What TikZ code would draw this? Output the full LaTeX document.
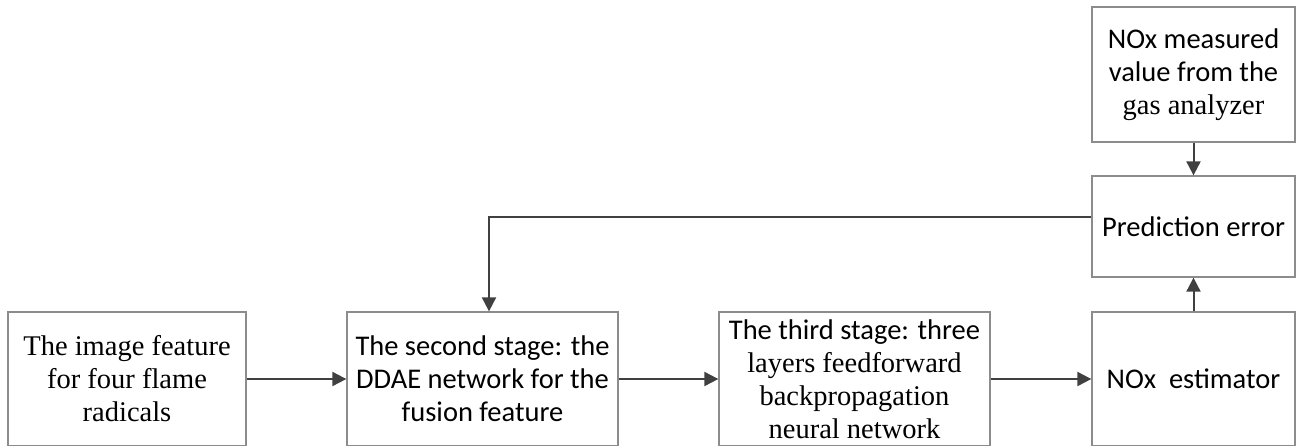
\documentclass[tikz,border=0pt]{standalone}
\usepackage{fontspec}
\setmainfont{Liberation Serif}
\newfontfamily\calibri{Carlito}
\usetikzlibrary{arrows.meta}
\tikzset{>={Triangle[width=14pt,length=14pt]}}
\definecolor{boxgray}{HTML}{8C8C8C}
\definecolor{linegray}{HTML}{404040}
\newcommand{\CAL}[1]{{\calibri #1}}

\begin{document}
\begin{tikzpicture}[x=1pt, y=1pt,
    stagebox/.style={draw=boxgray, line width=1.3pt, inner sep=0pt, align=center,
      font=\fontsize{28.5}{33}\selectfont},
    flow/.style={->, draw=linegray, line width=2pt}]

  \useasboundingbox (0,0) rectangle (1296,-445); %% positioning
  \clip (0,0) rectangle (1296,-445);

  % bottom row
  \node[stagebox, minimum width=238pt, minimum height=134pt] (feat) at (127,-379)
    {The image feature\\ for four flame\\ radicals};
  \node[stagebox, minimum width=271pt, minimum height=134pt] (ddae) at (482.5,-379)
    {\CAL{The second stage: the}\\ \CAL{DDAE network for the}\\ \CAL{fusion feature}};
  \node[stagebox, minimum width=271pt, minimum height=134pt] (bpnn) at (854.5,-379)
    {\CAL{The third stage: three}\\ layers feedforward\\ backpropagation\\ neural network};
  \node[stagebox, minimum width=203pt, minimum height=134pt] (est) at (1193.5,-379)
    {\CAL{NOx\ \ estimator}};

  % right column
  \node[stagebox, minimum width=203pt, minimum height=101pt] (err) at (1193.5,-226.5)
    {\CAL{Prediction error}};
  \node[stagebox, minimum width=203pt, minimum height=135pt] (meas) at (1193.5,-74.5)
    {\CAL{NOx measured}\\ \CAL{value from the}\\ gas analyzer};

  \draw[flow] (feat) -- (ddae);
  \draw[flow] (ddae) -- (bpnn);
  \draw[flow] (bpnn) -- (est);
  \draw[flow] (est) -- (err);
  \draw[flow] (meas) -- (err);
  \draw[flow] ([yshift=10pt]err.west) -| ([xshift=6.5pt]ddae.north);

\end{tikzpicture}
\end{document}
